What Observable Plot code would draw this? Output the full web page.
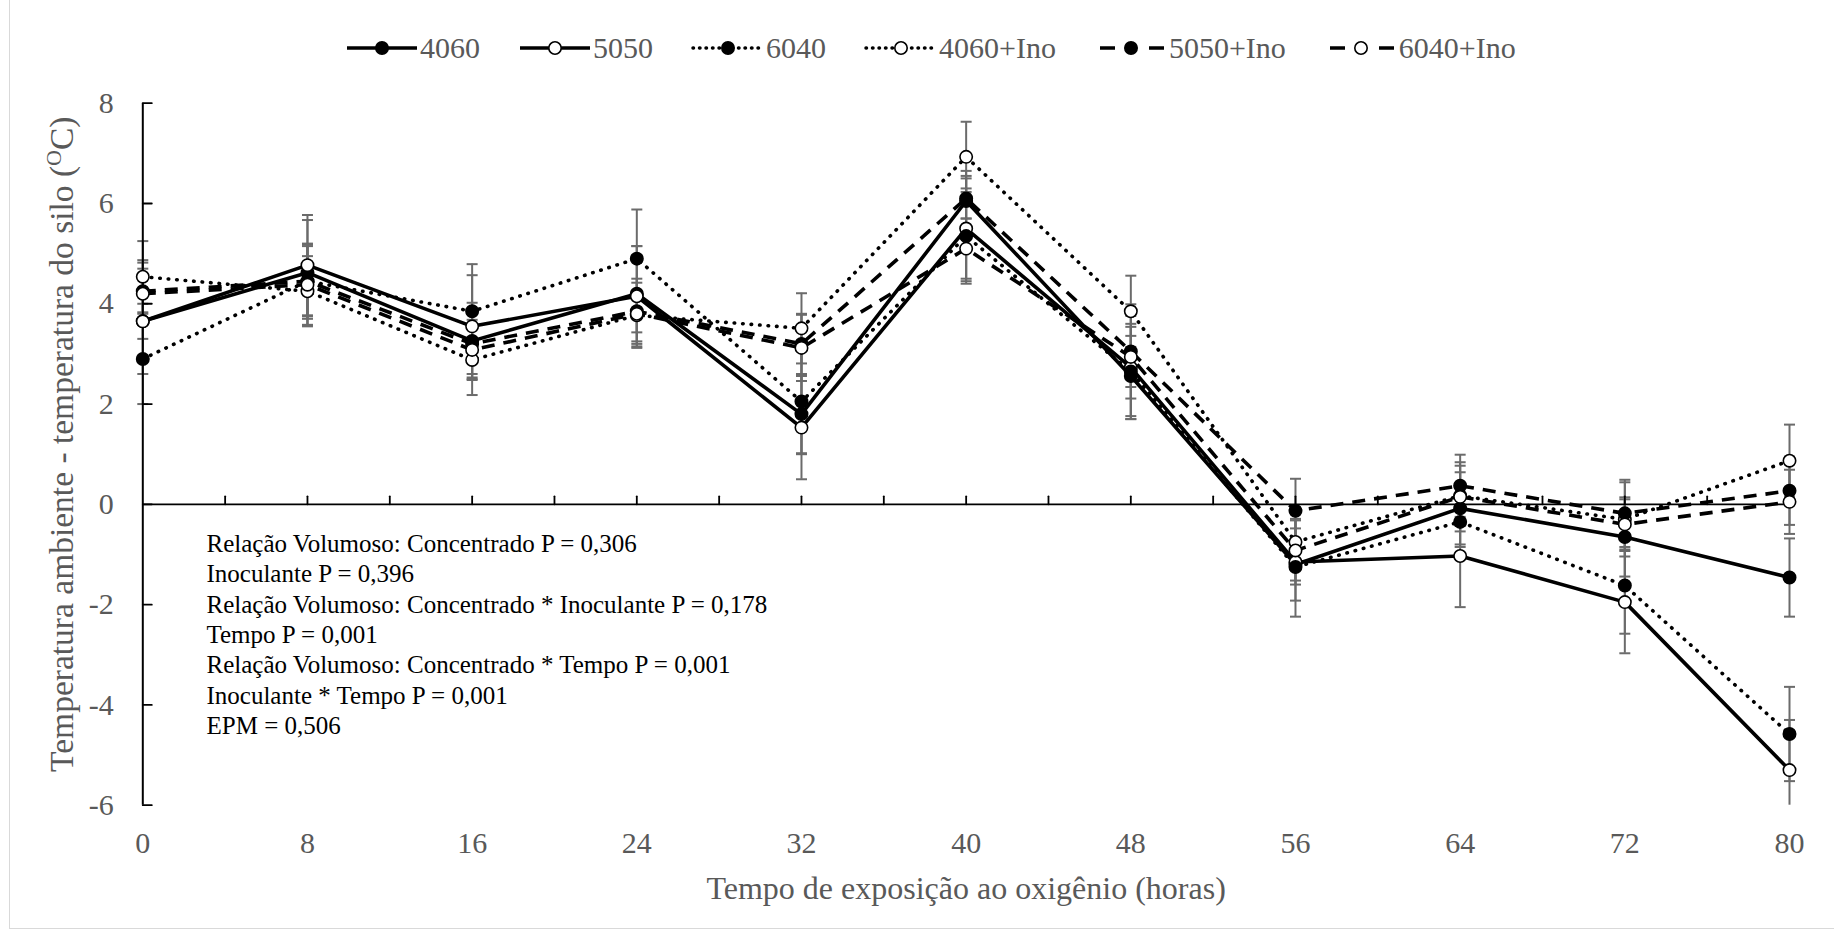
<!DOCTYPE html>
<html>
<head>
<meta charset="utf-8">
<script src="https://cdn.jsdelivr.net/npm/d3@7"></script>
<script src="https://cdn.jsdelivr.net/npm/@observablehq/plot@0.6"></script>
<style>
  html, body { margin: 0; padding: 0; background: #fff; }
  #chart { position: relative; width: 1834px; height: 933px; overflow: hidden; font-family: 'Liberation Serif', 'Times New Roman', serif; background: #fff; }
  #frame { position: absolute; left: 9px; top: -1px; width: 1840px; height: 930px; border: 1px solid #d9d9d9; box-sizing: border-box; pointer-events: none; }
  #legend { position: absolute; left: 347px; top: 30px; height: 36px; display: flex; align-items: center; gap: 40px; font-size: 30px; color: #595959; white-space: nowrap; }
  #legend .item { display: flex; align-items: center; }
  #legend .item span { margin-left: 3px; }
  #plot { position: absolute; left: 0; top: 80px; }
</style>
</head>
<body>
<div id="chart">
  <div id="legend"></div>
  <div id="plot"></div>
  <div id="frame"></div>
</div>
<script>
// ---------------- DATA ----------------
const hours = [0, 8, 16, 24, 32, 40, 48, 56, 64, 72, 80];
const seriesNames = ["4060", "5050", "6040", "4060+Ino", "5050+Ino", "6040+Ino"];

const mean4060    = [3.65, 4.62, 3.26, 4.20, 1.80, 6.05, 2.56, -1.20, -0.08, -0.65, -1.46];
const mean5050    = [3.65, 4.77, 3.55, 4.15, 1.53, 5.50, 2.73, -1.15, -1.03, -1.95, -5.30];
const mean6040    = [2.90, 4.45, 3.85, 4.90, 2.05, 5.35, 2.65, -1.25, -0.35, -1.62, -4.58];
const mean4060Ino = [4.54, 4.25, 2.88, 3.77, 3.51, 6.93, 3.85, -0.75, 0.17, -0.30, 0.87];
const mean5050Ino = [4.25, 4.45, 3.20, 3.85, 3.20, 6.10, 3.05, -0.13, 0.37, -0.18, 0.27];
const mean6040Ino = [4.20, 4.38, 3.08, 3.80, 3.12, 5.10, 2.94, -0.92, 0.15, -0.40, 0.05];

const err4060    = [0.35, 1.05, 0.76, 0.95, 0.78, 0.60, 0.80, 0.72, 0.72, 0.79, 0.78];
const err5050    = [1.05, 1.00, 1.02, 1.00, 1.03, 1.05, 1.03, 1.09, 1.02, 1.02, 1.00];
const err6040    = [0.90, 0.70, 0.94, 0.98, 1.05, 0.95, 0.95, 0.35, 0.50, 0.96, 0.94];
const err4060Ino = [0.71, 0.70, 0.70, 0.65, 0.70, 0.70, 0.71, 0.46, 0.60, 0.74, 0.72];
const err5050Ino = [0.62, 0.75, 0.60, 0.65, 0.60, 0.40, 0.94, 0.64, 0.62, 0.67, 0.68];
const err6040Ino = [0.62, 0.80, 0.60, 0.37, 0.66, 0.60, 0.60, 0.60, 0.69, 0.50, 0.64];

const yTicks = [-6, -4, -2, 0, 2, 4, 6, 8];
const xTickLabels = [0, 8, 16, 24, 32, 40, 48, 56, 64, 72, 80];
const xMinorTicks = [4, 8, 12, 16, 20, 24, 28, 32, 36, 40, 44, 48, 52, 56, 60, 64, 68, 72, 76, 80];

const xTitle = "Tempo de exposição ao oxigênio (horas)";
const yTitle = "Temperatura ambiente - temperatura do silo (OC)";
const statLines = [
  "Relação Volumoso: Concentrado P = 0,306",
  "Inoculante P = 0,396",
  "Relação Volumoso: Concentrado * Inoculante P = 0,178",
  "Tempo P = 0,001",
  "Relação Volumoso: Concentrado * Tempo P = 0,001",
  "Inoculante * Tempo P = 0,001",
  "EPM = 0,506"
];

// ---------------- STYLES ----------------
const means = [mean4060, mean5050, mean6040, mean4060Ino, mean5050Ino, mean6040Ino];
const errs = [err4060, err5050, err6040, err4060Ino, err5050Ino, err6040Ino];
const DOT = {dash: "0.5 8", cap: "round"};
const DASH = {dash: "13 9", cap: "butt"};
const SOLID = {dash: null, cap: "butt"};
const styleOf = {
  "4060": {...SOLID, fill: "black", legendDash: null},
  "5050": {...SOLID, fill: "white", legendDash: null},
  "6040": {...DOT, fill: "black", legendDash: "0.5 6"},
  "4060+Ino": {...DOT, fill: "white", legendDash: "0.5 6"},
  "5050+Ino": {...DASH, fill: "black", legendDash: "15 34"},
  "6040+Ino": {...DASH, fill: "white", legendDash: "15 34"}
};

const rows = seriesNames.flatMap((name, i) =>
  hours.map((t, j) => ({series: name, t, y: means[i][j], e: errs[i][j]})));

const yMin = yTicks[0];
const errColor = "#6b6b6b";
const tickShape = {draw(context, l) { context.moveTo(0, 0); context.lineTo(0, -l); }};
const capSymbol = {draw(context, size) { const w = Math.sqrt(size / Math.PI); context.moveTo(-w, 0); context.lineTo(w, 0); }};

const lineMarks = seriesNames.map(name => {
  const s = styleOf[name];
  return Plot.line(rows.filter(d => d.series === name), {
    x: "t", y: "y", stroke: "black", strokeWidth: 3.6,
    strokeDasharray: s.dash, strokeLinecap: s.cap, strokeLinejoin: "round"
  });
});
const dotMarks = seriesNames.map(name => Plot.dot(rows.filter(d => d.series === name), {
  x: "t", y: "y", r: 6.2, fill: styleOf[name].fill, stroke: "black", strokeWidth: 1.6
}));

const chart = Plot.plot({
  width: 1834,
  height: 853,
  marginLeft: 142.3,
  marginRight: 45,
  marginTop: 22.7,
  marginBottom: 128.3,
  x: {domain: [0, 80]},
  y: {domain: [yMin, 8]},
  style: {fontFamily: "'Liberation Serif', 'Times New Roman', serif", fontSize: "30px", background: "transparent", overflow: "visible"},
  marks: [
    // error bars
    Plot.ruleX(rows, {x: "t", y1: d => Math.max(d.y - d.e, yMin), y2: d => d.y + d.e, stroke: errColor, strokeWidth: 2}),
    Plot.dot(rows, {x: "t", y: d => d.y + d.e, symbol: capSymbol, r: 5.5, fill: "none", stroke: errColor, strokeWidth: 2}),
    Plot.dot(rows.filter(d => d.y - d.e >= yMin), {x: "t", y: d => d.y - d.e, symbol: capSymbol, r: 5.5, fill: "none", stroke: errColor, strokeWidth: 2}),
    // axes
    Plot.ruleX([0], {stroke: "black", strokeWidth: 2}),
    Plot.ruleY([0], {stroke: "black", strokeWidth: 1.8}),
    Plot.vector(yTicks, {x: 0, y: d => d, length: 9, rotate: 90, anchor: "start", shape: tickShape, stroke: "black", strokeWidth: 1.8}),
    Plot.vector(xMinorTicks, {x: d => d, y: 0, length: 8, rotate: 0, anchor: "start", shape: tickShape, stroke: "black", strokeWidth: 1.8}),
    Plot.axisY(yTicks, {anchor: "left", tickSize: 0, tickPadding: 29, tickFormat: d => String(d), fontSize: 30, fill: "#595959", label: null}),
    Plot.axisX(xTickLabels, {anchor: "bottom", tickSize: 0, tickPadding: 26, tickFormat: d => String(d), fontSize: 30, fill: "#595959", label: null}),
    // lines and markers
    ...lineMarks,
    ...dotMarks,
    // titles
    Plot.text([xTitle], {text: d => d, frameAnchor: "bottom", dy: 84, textAnchor: "middle", lineAnchor: "middle", fontSize: 32, fill: "#595959"}),
    Plot.text([yTitle], {text: d => d, frameAnchor: "left", dx: -81, dy: -10, rotate: -90, textAnchor: "middle", lineAnchor: "middle", fontSize: 33.5, fill: "#595959"}),
    // statistics annotation
    Plot.text([statLines.join("\n")], {text: d => d, frameAnchor: "top-left", dx: 63.7, dy: 427, textAnchor: "start", lineAnchor: "top", lineHeight: 1.216, fontSize: 25, fill: "black"})
  ]
});
document.getElementById("plot").appendChild(chart);

// superscript "O" in the y title
chart.querySelectorAll("text").forEach(t => {
  if (t.textContent === yTitle) {
    const base = yTitle.slice(0, -3);   // "... ("
    t.textContent = "";
    const ns = "http://www.w3.org/2000/svg";
    const a = document.createElementNS(ns, "tspan"); a.textContent = base;
    const b = document.createElementNS(ns, "tspan"); b.textContent = "O"; b.setAttribute("font-size", "22"); b.setAttribute("dy", "-12");
    const c = document.createElementNS(ns, "tspan"); c.textContent = "C)"; c.setAttribute("dy", "12");
    t.append(a, b, c);
  }
});

// legend
const legend = document.getElementById("legend");
seriesNames.forEach(name => {
  const s = styleOf[name];
  const item = document.createElement("div");
  item.className = "item";
  const dashAttr = s.legendDash ? `stroke-dasharray="${s.legendDash}"` : "";
  const x1 = s.legendDash === "15 34" ? 4 : 0;
  const x2 = s.legendDash === "15 34" ? 68 : 70;
  item.innerHTML = `<svg width="70" height="24" style="overflow:visible">
      <line x1="${x1}" y1="12" x2="${x2}" y2="12" stroke="black" stroke-width="3.5" ${dashAttr} stroke-linecap="${s.cap}"></line>
      <circle cx="35" cy="12" r="6.2" fill="${s.fill}" stroke="black" stroke-width="1.6"></circle>
    </svg><span>${name}</span>`;
  legend.appendChild(item);
});
</script>
</body>
</html>
